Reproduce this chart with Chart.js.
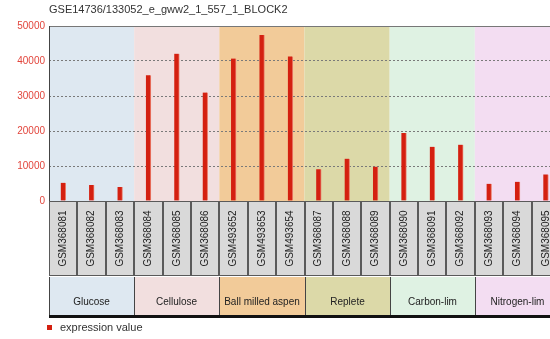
<!DOCTYPE html>
<html>
<head>
<meta charset="utf-8">
<script src="https://cdn.jsdelivr.net/npm/chart.js@4/dist/chart.umd.min.js"></script>
<style>
html,body{margin:0;padding:0;background:#fff;}
#wrap{width:550px;height:339px;overflow:hidden;position:relative;}
canvas{display:block;}
</style>
</head>
<body>
<div id="wrap"><canvas id="c" width="560" height="339"></canvas></div>
<script>
const title="GSE14736/133052_e_gww2_1_557_1_BLOCK2";
const samples=["GSM368081","GSM368082","GSM368083","GSM368084","GSM368085","GSM368086","GSM493652","GSM493653","GSM493654","GSM368087","GSM368088","GSM368089","GSM368090","GSM368091","GSM368092","GSM368093","GSM368094","GSM368095"];
const values=[5200,4600,4000,35900,42100,31000,40700,47400,41300,9100,12100,9800,19400,15500,16100,4900,5500,7600];
const groups=["Glucose","Cellulose","Ball milled aspen","Replete","Carbon-lim","Nitrogen-lim"];
const groupSizes=[3,3,3,3,3,3];
const groupColors=["#dee8f1","#f2dfdf","#f2cb99","#dcd9a8","#dff2e3","#f3ddf2"];
const yTicks=[0,10000,20000,30000,40000,50000];
const seriesName="expression value";

const ctx=document.getElementById("c").getContext("2d");

// group spans in category index terms
function spans(){
  let s=0;return groupSizes.map(n=>{const r=[s,s+n-1];s+=n;return r;});
}

const deco={
  id:"deco",
  beforeDraw(chart){
    const {ctx,chartArea:a,scales:{x}}=chart;
    const half=(x.getPixelForValue(1)-x.getPixelForValue(0))/2;
    ctx.save();
    spans().forEach((sp,i)=>{
      const l=x.getPixelForValue(sp[0])-half,r=x.getPixelForValue(sp[1])+half;
      ctx.fillStyle=groupColors[i];
      ctx.fillRect(l,a.top,r-l,a.bottom-a.top);
    });
    ctx.restore();
  },
  afterDraw(chart){
    const {ctx,chartArea:a,scales:{x}}=chart;
    const half=(x.getPixelForValue(1)-x.getPixelForValue(0))/2;
    ctx.save();
    // frame: top and left
    ctx.strokeStyle="#777";ctx.lineWidth=1;
    ctx.beginPath();ctx.moveTo(a.left,a.top+0.5);ctx.lineTo(a.right,a.top+0.5);ctx.stroke();
    ctx.strokeStyle="#444";
    ctx.beginPath();ctx.moveTo(a.left+0.5,a.top);ctx.lineTo(a.left+0.5,a.bottom);ctx.stroke();
    // sample label boxes
    const bt=a.bottom,bb=276;
    samples.forEach((s,i)=>{
      const c=x.getPixelForValue(i);
      const l=Math.round(c-half),r=Math.round(c+half);
      ctx.fillStyle="#d9d9d9";
      ctx.fillRect(l,bt,r-l,bb-bt);
      ctx.strokeStyle="#5a5a5a";
      ctx.strokeRect(l+0.5,bt+0.5,r-l-1,bb-bt-1);
      ctx.save();
      ctx.translate(c,(bt+bb)/2);
      ctx.rotate(-Math.PI/2);
      ctx.fillStyle="#222";
      ctx.font="10px Arial, 'Liberation Sans', sans-serif";
      ctx.textAlign="center";ctx.textBaseline="middle";
      ctx.fillText(s,0,0);
      ctx.restore();
    });
    // group boxes
    const gt=277,gb=316;
    spans().forEach((sp,i)=>{
      const l=Math.round(x.getPixelForValue(sp[0])-half),r=Math.round(x.getPixelForValue(sp[1])+half);
      ctx.fillStyle=groupColors[i];
      ctx.fillRect(l,gt,r-l,gb-gt);
      ctx.strokeStyle="#444";ctx.lineWidth=1;
      ctx.beginPath();
      ctx.moveTo(l+0.5,gt);ctx.lineTo(l+0.5,gb);
      ctx.moveTo(r+0.5,gt);ctx.lineTo(r+0.5,gb);
      ctx.stroke();
      ctx.fillStyle="#222";
      ctx.font="10px Arial, 'Liberation Sans', sans-serif";
      ctx.textAlign="center";ctx.textBaseline="middle";
      ctx.fillText(groups[i],(l+r)/2,302);
    });
    ctx.fillStyle="#111";
    ctx.fillRect(a.left,gb-1,a.right-a.left,3);
    // legend
    ctx.fillStyle="#d42010";
    ctx.fillRect(47,325,5,5);
    ctx.fillStyle="#333";
    ctx.font="11px Arial, 'Liberation Sans', sans-serif";
    ctx.textAlign="left";ctx.textBaseline="middle";
    ctx.fillText(seriesName,60,328);
    ctx.restore();
  }
};

new Chart(ctx,{
  type:"bar",
  data:{labels:samples,datasets:[{label:seriesName,data:values,backgroundColor:"#d42010",borderColor:"#ea7a68",borderWidth:{right:1},borderSkipped:false,barThickness:5}]},
  options:{
    responsive:false,animation:false,
    layout:{padding:0},
    plugins:{
      legend:{display:false},
      tooltip:{enabled:false},
      title:{display:true,text:title,align:"start",fullSize:false,color:"#333",
        font:{family:"Arial, 'Liberation Sans', sans-serif",size:11,weight:"normal"},padding:{top:3.4,bottom:9.4}}
    },
    scales:{
      x:{grid:{display:false},border:{display:false},ticks:{display:false},
        afterFit(s){s.height=138;}},
      y:{min:0,max:50000,afterBuildTicks(s){s.ticks=yTicks.map(v=>({value:v}));},
        afterFit(s){s.width=49;},
        border:{display:false,dash:[2,2]},
        grid:{drawTicks:false,lineWidth:1,color:c=>(c.tick&&c.tick.value>0&&c.tick.value<50000)?"#7a7a7a":"rgba(0,0,0,0)"},
        ticks:{color:"#e2453c",padding:4,callback:v=>String(v),font:{family:"Arial, 'Liberation Sans', sans-serif",size:10}}
      }
    }
  },
  plugins:[deco]
});
</script>
</body>
</html>
